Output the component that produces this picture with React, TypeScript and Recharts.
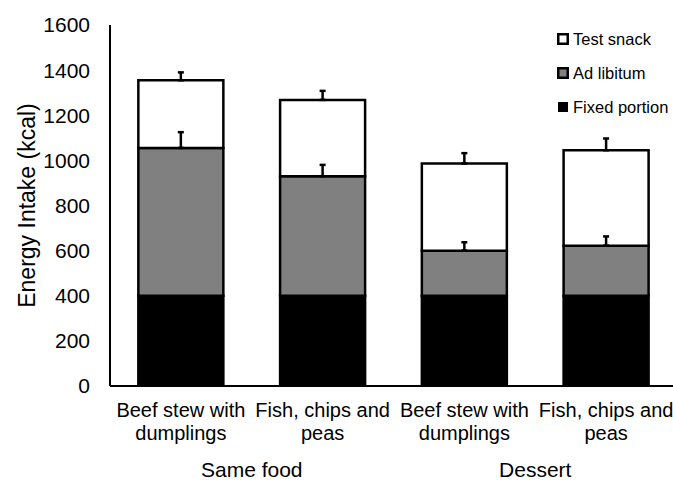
import React from "react";
import { BarChart, Bar, XAxis, YAxis, ErrorBar } from "recharts";

const meals = [
  ["Beef stew with", "dumplings"],
  ["Fish, chips and", "peas"],
  ["Beef stew with", "dumplings"],
  ["Fish, chips and", "peas"],
];
const groups = ["Same food", "Same food", "Dessert", "Dessert"];

const fixedPortion = [400, 400, 400, 400];
const adLibitum = [655, 530, 200, 222];
const testSnack = [300, 338, 386, 423];
const adLibitumErr = [70, 50, 37, 41];
const testSnackErr = [35, 40, 46, 52];

const yTicks = [0, 200, 400, 600, 800, 1000, 1200, 1400, 1600];

const FONT = "'Liberation Sans', Arial, sans-serif";

const chartData = meals.map((m, i) => ({
  name: m.join(" ") + " " + i,
  lines: m,
  group: groups[i],
  fixed: fixedPortion[i],
  adlib: adLibitum[i],
  test: testSnack[i],
  adlibErr: [0, adLibitumErr[i]],
  testErr: [0, testSnackErr[i]],
}));

const legendItems = [
  { label: "Test snack", fill: "#ffffff", size: 12, sw: 2.5 },
  { label: "Ad libitum", fill: "#808080", size: 12, sw: 2.5 },
  { label: "Fixed portion", fill: "#000000", size: 10, sw: 0 },
];

function MealTick(props: any) {
  const { x, y, index } = props;
  const lines = chartData[index]?.lines ?? ["", ""];
  return (
    <g>
      <text x={x} y={y + 31} textAnchor="middle" fontSize={20} fontFamily={FONT} fill="#000">
        {lines[0]}
      </text>
      <text x={x} y={y + 54} textAnchor="middle" fontSize={20} fontFamily={FONT} fill="#000">
        {lines[1]}
      </text>
    </g>
  );
}

function GroupTick(props: any) {
  const { x, y, payload } = props;
  return (
    <text x={x} y={y + 29} textAnchor="middle" fontSize={21} fontFamily={FONT} fill="#000">
      {payload.value}
    </text>
  );
}

function LegendBox() {
  return (
    <div
      style={{
        position: "absolute",
        top: 22,
        left: 555,
        fontFamily: FONT,
        fontSize: 16.5,
        color: "#000",
      }}
    >
      {legendItems.map((it) => (
        <div key={it.label} style={{ display: "flex", alignItems: "center", height: 34 }}>
          <svg width={16} height={16} style={{ marginRight: 2 }}>
            <rect
              x={8 - it.size / 2 + it.sw / 2}
              y={8 - it.size / 2 + it.sw / 2}
              width={it.size - it.sw}
              height={it.size - it.sw}
              fill={it.fill}
              stroke="#000"
              strokeWidth={it.sw}
            />
          </svg>
          <span>{it.label}</span>
        </div>
      ))}
    </div>
  );
}

export default function App() {
  return (
    <div
      style={{
        position: "absolute",
        left: 0,
        top: 0,
        width: 673,
        height: 484,
        overflow: "hidden",
        background: "#fff",
      }}
    >
      <BarChart
        width={677}
        height={484}
        data={chartData}
        margin={{ top: 25, right: 0, bottom: 0, left: 0 }}
        barCategoryGap="20%"
      >
        <XAxis
          dataKey="name"
          xAxisId={0}
          height={62}
          tickLine={false}
          tickSize={0}
          tickMargin={0}
          axisLine={{ stroke: "#000", strokeWidth: 2 }}
          tick={<MealTick />}
          interval={0}
        />
        <XAxis
          dataKey="group"
          xAxisId="grp"
          height={36}
          allowDuplicatedCategory={false}
          tickLine={false}
          tickSize={0}
          tickMargin={0}
          axisLine={false}
          tick={<GroupTick />}
          interval={0}
        />
        <YAxis
          width={110}
          domain={[0, 1600]}
          ticks={yTicks}
          allowDataOverflow
          tickLine={false}
          tickSize={18}
          tickMargin={2}
          axisLine={{ stroke: "#000", strokeWidth: 2 }}
          tick={{ fontSize: 21, fontFamily: FONT, fill: "#000" }}
          label={{
            content: (p: any) => {
              const vb = p.viewBox || {};
              const cy = (vb.y ?? 25) + (vb.height ?? 361) / 2;
              return (
                <text
                  x={27}
                  y={cy}
                  transform={`rotate(-90 27 ${cy})`}
                  textAnchor="middle"
                  dominantBaseline="central"
                  fontSize={23}
                  fontFamily={FONT}
                  fill="#000"
                >
                  Energy Intake (kcal)
                </text>
              );
            },
          }}
        />
        <Bar dataKey="fixed" name="Fixed portion" stackId="a" fill="#000000" stroke="#000" strokeWidth={2.5} isAnimationActive={false} />
        <Bar dataKey="adlib" name="Ad libitum" stackId="a" fill="#808080" stroke="#000" strokeWidth={2.5} isAnimationActive={false}>
          <ErrorBar dataKey="adlibErr" width={3} stroke="#000" strokeWidth={2.5} direction="y" isAnimationActive={false} />
        </Bar>
        <Bar dataKey="test" name="Test snack" stackId="a" fill="#ffffff" stroke="#000" strokeWidth={2.5} isAnimationActive={false}>
          <ErrorBar dataKey="testErr" width={3} stroke="#000" strokeWidth={2.5} direction="y" isAnimationActive={false} />
        </Bar>
      </BarChart>
      <LegendBox />
    </div>
  );
}
